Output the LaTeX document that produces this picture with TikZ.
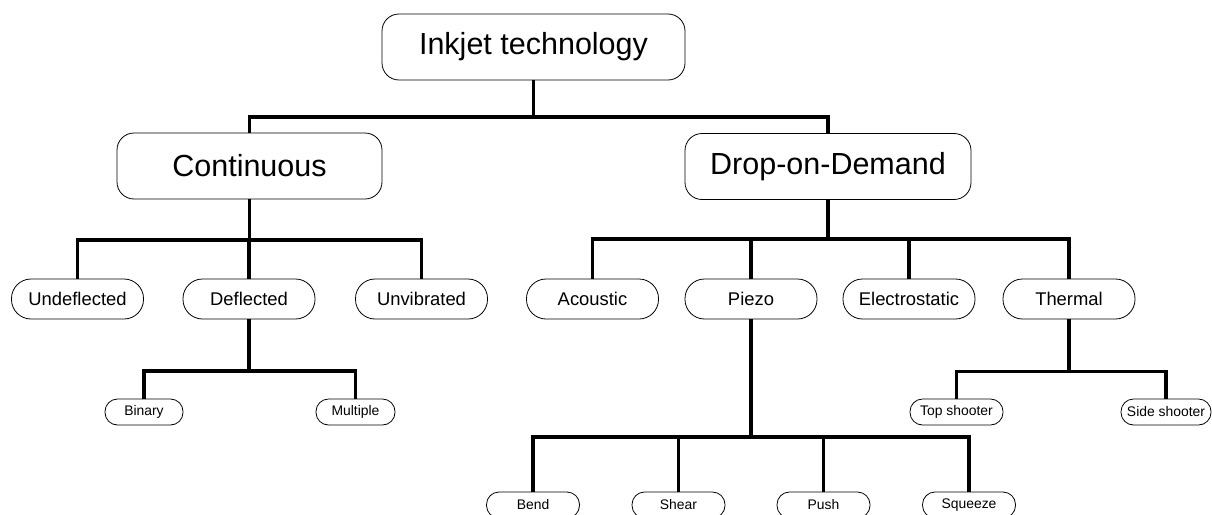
\documentclass[tikz,border=0pt]{standalone}
\usepackage{fontspec}
\setmainfont{Liberation Sans}
\begin{document}
\begin{tikzpicture}[x=1pt,y=-1pt,
  box/.style={draw, line width=0.8pt, inner sep=0pt, anchor=center},
  bigbox/.style={box, rounded corners=17pt, minimum height=66pt, font=\fontsize{30.5}{34}\selectfont},
  midbox/.style={box, rounded corners=19.5pt, minimum height=40pt, minimum width=132pt, font=\fontsize{18.4}{22}\selectfont},
  smallbox/.style={box, rounded corners=12.5pt, minimum height=26pt, font=\fontsize{13.9}{16}\selectfont},
  conn/.style={line width=3.2pt}]
\useasboundingbox (0,0) rectangle (1212,514);
\clip (0,0) rectangle (1212,514);
% level 0
\node[bigbox, minimum width=303pt] (ink) at (533.5,47) {Inkjet technology};
% level 1
\node[bigbox, minimum width=265pt] (cont) at (249.5,166) {Continuous};
\node[bigbox, minimum width=286pt] (dod) at (828,166.5) {Drop-on-Demand};
% level 2
\node[midbox] (undef) at (77.5,299) {Undeflected};
\node[midbox] (defl) at (249,299) {Deflected};
\node[midbox] (unvib) at (421.5,299) {Unvibrated};
\node[midbox] (acou) at (592.5,299) {Acoustic};
\node[midbox] (piezo) at (751,299) {Piezo};
\node[midbox] (elec) at (909,299) {Electrostatic};
\node[midbox] (therm) at (1069,299) {Thermal};
% level 3
\node[smallbox, minimum width=78pt] (bin) at (144,412) {Binary};
\node[smallbox, minimum width=79pt] (mult) at (355.5,412) {Multiple};
\node[smallbox, minimum width=93pt] (tops) at (956.5,412) {Top shooter};
\node[smallbox, minimum width=90pt] (sides) at (1166,412) {Side shooter};
\node[smallbox, minimum width=93pt] (bend) at (533,505) {Bend};
\node[smallbox, minimum width=93pt] (shear) at (678.5,505) {Shear};
\node[smallbox, minimum width=93pt] (push) at (823.5,505) {Push};
\node[smallbox, minimum width=93pt] (squ) at (969,505) {Squeeze};
% connectors
\foreach \c in {cont,dod}
  \draw[conn] (ink.south) -- (ink.south |- 0,117) -| (\c.north);
\foreach \c in {undef,defl,unvib}
  \draw[conn] (cont.south) -- (cont.south |- 0,240) -| (\c.north);
\foreach \c in {acou,piezo,elec,therm}
  \draw[conn] (dod.south) -- (dod.south |- 0,239) -| (\c.north);
\foreach \c in {bin,mult}
  \draw[conn] (defl.south) -- (defl.south |- 0,371) -| (\c.north);
\foreach \c in {tops,sides}
  \draw[conn] (therm.south) -- (therm.south |- 0,371.5) -| (\c.north);
\foreach \c in {bend,shear,push,squ}
  \draw[conn] (piezo.south) -- (piezo.south |- 0,437) -| (\c.north);
\end{tikzpicture}
\end{document}
